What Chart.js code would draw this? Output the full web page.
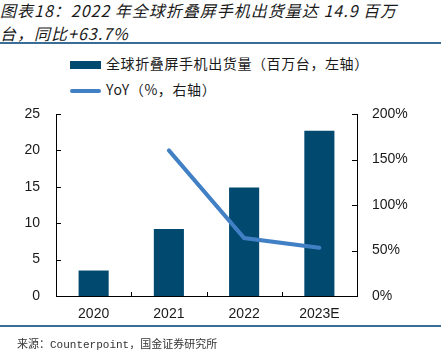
<!DOCTYPE html>
<html>
<head>
<meta charset="utf-8">
<script src="https://cdn.jsdelivr.net/npm/chart.js"></script>
<style>
  body { margin: 0; background: #fff; }
  #wrap { position: relative; width: 441px; height: 350px; overflow: hidden; }
  #chart { position: absolute; left: 0; top: 0; }
  .title { position: absolute; left: 0; font: italic 16px/20px "Noto Sans CJK SC", sans-serif; color: #1a1a1a; letter-spacing: 1px; white-space: nowrap; }
  .rule { position: absolute; left: 0; width: 441px; height: 2px; background: #3a6d96; }
  .legend { position: absolute; left: 70px; font: 14px/20px "Noto Sans CJK SC", sans-serif; color: #1a1a1a; letter-spacing: 0.6px; white-space: nowrap; }
  .legend i { display: inline-block; width: 31px; vertical-align: middle; margin-right: 5px; }
  .foot { position: absolute; left: 17px; top: 335px; font: 11px "Liberation Mono", "Noto Sans CJK SC", monospace; color: #333; white-space: nowrap; }
</style>
</head>
<body>
<div id="wrap">
  <div class="title" style="top:0px">图表18：2022 年全球折叠屏手机出货量达 14.9 百万</div>
  <div class="title" style="top:23px">台，同比+63.7%</div>
  <div class="rule" style="top:42px"></div>
  <div class="legend" style="top:53px"><i style="height:8px;background:#02496f"></i>全球折叠屏手机出货量（百万台，左轴）</div>
  <div class="legend" style="top:79px"><i style="height:4px;background:#4180c4;border-radius:2px"></i>YoY（%，右轴）</div>
  <canvas id="chart" width="441" height="350"></canvas>
  <div class="rule" style="top:325px"></div>
  <div class="foot">来源：Counterpoint，国金证券研究所</div>
</div>
<script>
// datos del gráfico
const categories = ['2020', '2021', '2022', '2023E'];
const shipments = [3.5, 9.2, 14.9, 22.7];   // millones de unidades
const yoy = [null, 160, 63.7, 53];           // %

const tickFont = { family: 'Liberation Sans', size: 14 };

// marcas de eje hacia dentro
const innerTicks = {
    id: 'innerTicks',
    afterDraw(chart) {
        const c = chart.ctx;
        const { x, y, y1 } = chart.scales;
        c.save();
        c.strokeStyle = '#000';
        c.lineWidth = 1;
        c.beginPath();
        y.ticks.forEach(t => {
            const py = Math.round(y.getPixelForValue(t.value)) + 0.5;
            c.moveTo(x.left, py); c.lineTo(x.left + 5, py);
        });
        y1.ticks.forEach(t => {
            const py = Math.round(y1.getPixelForValue(t.value)) + 0.5;
            c.moveTo(x.right, py); c.lineTo(x.right - 5, py);
        });
        for (let i = 0; i < categories.length - 1; i++) {
            const px = Math.round((x.getPixelForTick(i) + x.getPixelForTick(i + 1)) / 2) + 0.5;
            c.moveTo(px, y.bottom); c.lineTo(px, y.bottom - 4);
        }
        c.stroke();
        c.restore();
    }
};

const ctx = document.getElementById('chart').getContext('2d');
new Chart(ctx, {
    data: {
        labels: categories,
        datasets: [{
            type: 'line',
            label: 'YoY（%，右轴）',
            data: yoy,
            yAxisID: 'y1',
            borderColor: '#4180c4',
            borderWidth: 4,
            borderCapStyle: 'round',
            pointRadius: 0,
            tension: 0,
            order: 0
        }, {
            type: 'bar',
            label: '全球折叠屏手机出货量（百万台，左轴）',
            data: shipments,
            yAxisID: 'y',
            backgroundColor: '#02496f',
            categoryPercentage: 1,
            barPercentage: 0.4,
            order: 1
        }]
    },
    options: {
        responsive: false,
        animation: false,
        devicePixelRatio: 1,
        layout: { padding: { top: 114, left: 0, right: 0, bottom: 0 } },
        plugins: { legend: { display: false }, tooltip: { enabled: false } },
        scales: {
            x: {
                grid: { display: false },
                border: { display: true, color: '#000', width: 1 },
                ticks: { color: '#1a1a1a', font: tickFont, padding: 2 },
                afterFit: s => { s.height = 54; }
            },
            y: {
                position: 'left',
                min: 0, max: 25,
                grid: { display: false, drawTicks: false },
                border: { display: true, color: '#000', width: 1 },
                ticks: { stepSize: 5, color: '#1a1a1a', font: tickFont, padding: 16 },
                afterFit: s => { s.width = 56; }
            },
            y1: {
                position: 'right',
                min: 0, max: 200,
                grid: { display: false, drawTicks: false },
                border: { display: true, color: '#000', width: 1 },
                ticks: { stepSize: 50, color: '#1a1a1a', font: tickFont, padding: 15, callback: v => v + '%' },
                afterFit: s => { s.width = 84; }
            }
        }
    },
    plugins: [innerTicks]
});
</script>
</body>
</html>
